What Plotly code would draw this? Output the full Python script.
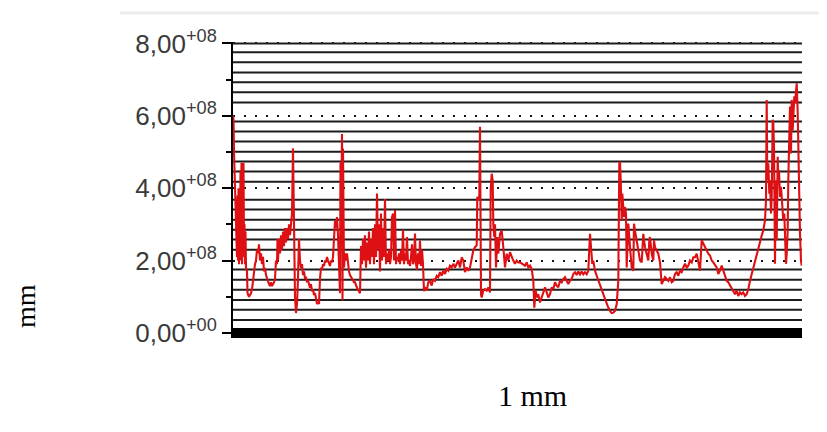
import plotly.graph_objects as go

# Position along the profile (arbitrary units, 0 .. 569)
position = [
    0, 0.5, 1, 2, 3, 4, 4.5, 5, 5.5, 6, 6.5, 7, 7.5, 8, 8.5, 9, 9.5, 10, 10.5, 11, 11.5, 12, 12.5, 13, 14, 14.5,
    15, 16, 17, 18, 19, 20, 21, 22, 23, 24, 25, 26, 27, 28, 29, 30, 31, 32, 33, 34, 35, 36, 37, 38, 39, 40,
    41, 42, 43, 44, 44.5, 45, 46, 47, 48, 49, 50, 51, 52, 53, 54, 55, 56, 57, 58, 59, 60, 60.5, 61, 62, 63,
    64, 65, 66, 67, 68, 69, 70, 71, 72, 73, 74, 75, 76, 77, 78, 79, 80, 81, 82, 83, 84, 85, 86, 87, 88, 89,
    90, 91, 92, 93, 94, 95,
    96, 97, 98, 99, 100, 101, 102, 103, 104, 105, 106, 107, 107.5, 108, 109, 109.5, 110, 110.5, 111, 112,
    113, 114, 115, 116, 117, 118, 119, 120, 121, 122, 123, 124, 125, 126, 127, 128, 129, 130, 131, 132, 133,
    134, 135, 136, 137, 138, 139, 140, 141, 142, 143, 144, 145, 146, 147, 148, 149, 150, 151, 152, 153, 154,
    155, 156, 157, 158, 159, 160, 161, 162, 163, 164, 165, 166, 167, 168, 169, 170, 171, 172, 173, 174, 175,
    176, 177, 178, 179, 180, 181, 182, 183, 184, 185, 186, 187, 188, 189, 190, 191,
    192, 193.7, 195.3, 197, 198.7, 200.3, 202, 203.7, 205.3, 207, 208.7, 210.3, 212, 213.7, 215.3, 217,
    218.7, 220.3, 222, 223.7, 225.3, 227, 228.7, 230.3, 232, 233.7, 235.3, 237, 238.7, 240.3, 242, 243.7,
    244.3, 245.3, 246.3, 247, 248, 248.7, 250.3, 252, 253.7, 255.3, 257, 257.7, 258.7, 259.7, 260.3, 261.3,
    262, 263, 264.3, 265.3, 267, 268.7, 270.3, 272, 273.7, 275.3, 277, 278.7, 280.3, 282, 283.7, 285.3, 287,
    292, 293.7, 295.3, 297, 298.7, 300.3, 301.3, 302.7, 303.7, 305.3, 307, 308.7, 310.3, 312, 313.7, 315.3,
    317, 318.7, 320.3, 322, 323.7, 325.3, 327, 328.7, 330.3, 332, 333.7, 335.3, 337, 338.7, 340.3, 342,
    343.7, 345.3, 347, 348.7, 350.3, 352, 353.7, 355.3, 357, 358, 359.3, 360.3, 362, 363.7, 365.3, 367,
    368.7, 370.3, 372, 373.7, 375.3, 377, 378.7,
    380.3, 382, 383.7, 385.3, 386.3, 387, 387.7, 388.7, 389.3, 390.3, 391, 392, 393, 393.7, 395.3, 397,
    398.7, 400.3, 401, 402, 403.7, 405.3, 407, 408.7, 409.7, 410.3, 412, 413.7, 415.3, 416.3, 417, 418.7,
    420.3, 421, 422, 423.7, 425.3, 427, 428.7, 430.3, 432, 433.7, 435.3, 437, 438.7, 440.3, 442, 443.7,
    445.3, 447, 448.7, 450.3, 452, 453.7, 455.3, 457, 458.7, 460.3, 462, 463.7, 465.3, 467, 468.7, 470.3,
    472, 473.7, 475.3,
    477, 478.7, 480.3, 482, 483.7, 485.3, 487, 488.7, 490.3, 492, 493.7, 495.3, 497, 498.7, 500.3, 502,
    503.7, 505.3, 507, 508.7, 510.3, 512, 513.7, 515.3, 517, 518.7, 520.3, 522, 523.7, 525.3, 527, 528.7,
    530.3, 532, 533, 533.7, 534.3, 535.3, 536.3, 537, 538, 538.7, 539.7, 540.3, 541, 542, 542.7, 543.7,
    544.7, 545.3, 546, 547, 548, 549.3, 550.3, 551.3, 552, 553, 553.7, 554.7, 555.3, 556.3, 557, 558,
    558.7, 559.7, 560.3, 561.3, 562, 563, 563.7, 564.7, 565.3, 566.3, 567, 568, 568.7,
]

# Measured value, in units of 1e8
value_e8 = [
    6.0, 5.9, 5.0, 4.2, 3.2, 2.1, 3.8, 2.0, 4.0, 1.9, 3.6, 2.2, 4.5, 2.0, 4.7, 1.9, 4.6, 2.1, 4.7, 2.3, 3.0, 1.9, 2.8, 1.8, 1.7, 1.1,
    1.05, 1.0, 1.05, 1.1, 1.2, 1.5, 1.6, 1.9, 2.0, 2.3, 2.2, 2.45, 2.0, 2.2, 1.9, 2.1, 1.7, 1.8, 1.6, 1.5, 1.45, 1.35, 1.3, 1.4, 1.3, 1.35,
    1.4, 1.5, 2.0, 1.9, 2.6, 2.0, 2.6, 2.2, 2.7, 2.3, 2.8, 2.4, 2.9, 2.5, 2.9, 2.6, 3.0, 2.7, 3.1, 3.3, 5.1, 3.5, 2.0, 1.0, 0.55,
    0.8, 1.5, 2.6, 2.0, 1.8, 1.9, 1.6, 1.7, 1.5, 1.55, 1.4, 1.45, 1.3, 1.25, 1.35, 1.15, 1.2, 1.05, 1.1, 0.9, 0.8, 0.85, 0.8, 1.5, 1.8, 1.75,
    1.9, 1.85, 2.0, 1.95, 2.1, 2.0,
    1.9, 1.85, 2.0, 1.95, 2.1, 2.6, 3.1, 2.9, 3.2, 2.7, 1.5, 1.1, 4.7, 2.5, 5.5, 0.9, 5.1, 2.2, 1.8, 2.2,
    2.0, 2.2, 1.8, 1.7, 1.6, 1.55, 1.5, 1.45, 1.4, 1.4, 1.3, 1.25, 1.2, 1.15, 1.1, 2.4, 1.9, 2.6, 2.0, 2.7, 1.8,
    2.5, 2.0, 2.8, 1.9, 2.6, 2.1, 2.9, 1.9, 3.0, 2.1, 3.85, 2.3, 3.0, 1.7, 3.3, 2.0, 2.9, 2.1, 3.7, 1.9, 2.2,
    2.0, 2.3, 1.9, 2.1, 3.2, 3.3, 2.0, 3.4, 1.9, 2.1, 2.0, 2.2, 1.9, 2.3, 2.0, 2.85, 1.9, 2.2, 2.0, 2.65, 1.9,
    2.0, 1.85, 2.1, 2.45, 1.9, 2.0, 2.75, 1.9, 1.75, 2.2, 1.9, 2.55, 1.85, 2.3, 1.9, 1.15,
    1.26, 1.17, 1.40, 1.44, 1.31, 1.49, 1.44, 1.58, 1.54, 1.68, 1.58, 1.72, 1.63, 1.77, 1.72, 1.86,
    1.81, 1.91, 1.81, 1.91, 2.0, 1.81, 2.09, 2.0, 1.68, 1.81, 1.72, 1.81, 2.09, 2.28, 2.37, 2.42,
    3.76, 3.67, 3.8, 5.7, 1.07, 0.98, 1.17, 1.21, 1.17, 1.26, 1.12, 3.95, 4.4, 4.2, 3.0, 2.65,
    3.0, 1.81, 2.65, 2.19, 2.74, 2.83, 2.37, 1.81, 2.19, 2.0, 2.23, 2.09, 2.0, 1.91, 2.0, 1.95, 1.95,
    1.86, 1.95, 1.81, 1.86, 1.77, 1.44, 0.70, 1.17, 0.98, 1.07, 0.84, 0.98, 1.07, 1.26, 1.12, 0.98,
    1.07, 1.26, 1.21, 1.40, 1.31, 1.26, 1.44, 1.40, 1.49, 1.54, 1.44, 1.35, 1.44, 1.49, 1.63, 1.68,
    1.60, 1.70, 1.62, 1.70, 1.62, 1.68, 1.62, 1.72, 2.74, 2.37, 1.91, 2.0, 1.72, 1.58, 1.44, 1.35,
    1.21, 1.07, 0.94, 0.80, 0.70, 0.61, 0.55,
    0.56, 0.61, 0.80, 1.44, 4.69, 4.73, 4.22, 3.11, 3.85, 3.57, 3.2, 3.48, 3.3, 1.81, 3.02, 2.37,
    1.81, 1.72, 3.02, 2.83, 2.56, 2.37, 2.0, 1.95, 2.37, 2.74, 2.37, 2.19, 2.0, 2.56, 2.65, 2.19,
    2.0, 2.56, 2.37, 2.28, 2.19, 1.95, 1.35, 1.44, 1.54, 1.49, 1.44, 1.54, 1.40, 1.44, 1.63, 1.68,
    1.58, 1.72, 1.68, 1.81, 1.91, 1.81, 1.86, 2.0, 1.95, 2.09, 2.09, 2.19, 2.0, 1.72, 2.56, 2.46,
    2.37, 2.28, 2.19,
    2.14, 2.0, 1.95, 1.86, 1.81, 1.63, 1.72, 1.86, 1.72, 1.54, 1.44, 1.40, 1.31, 1.21, 1.12, 1.07,
    1.17, 1.02, 1.12, 1.07, 1.12, 1.02, 1.07, 1.21, 1.44, 1.63, 1.81, 2.0, 2.19, 2.37, 2.56, 2.69,
    2.83, 3.11, 3.67, 6.44, 4.22, 4.69, 3.85, 4.22, 3.3, 3.76, 5.89, 5.8, 5.15, 1.91, 4.22, 2.56,
    4.87, 4.22, 4.5, 3.76, 4.04, 3.57, 3.11, 3.3, 2.37, 1.91, 2.19, 2.83, 4.22, 5.15, 6.26, 4.96,
    6.44, 5.6, 5.98, 6.54, 6.35, 6.81, 6.9, 6.07, 4.87, 3.02, 2.74, 2.0, 1.86,
]

# Constant reference levels drawn as horizontal lines (units of 1e8)
level_e8 = [0.36, 0.64, 0.91, 1.19, 1.47, 1.75, 2.30, 2.58, 2.85, 3.13, 3.41, 3.68,
            4.18, 4.46, 4.74, 5.01, 5.29, 5.57, 5.84, 6.37, 6.65, 6.93, 7.20, 7.48, 7.76, 8.0]

tick_values = [0, 2e8, 4e8, 6e8, 8e8]
tick_labels = ["0,00<sup>+00</sup>", "2,00<sup>+08</sup>", "4,00<sup>+08</sup>",
               "6,00<sup>+08</sup>", "8,00<sup>+08</sup>"]

x_min, x_max = 0, 569
values = [v * 1e8 for v in value_e8]

lx, ly = [], []
for lv in level_e8:
    lx += [x_min, x_max, None]
    ly += [lv * 1e8, lv * 1e8, None]

fig = go.Figure()
fig.add_trace(go.Scatter(x=lx, y=ly, mode="lines",
                         line=dict(color="#1c1c1c", width=2), hoverinfo="skip",
                         showlegend=False))
fig.add_trace(go.Scatter(x=position, y=values, mode="lines",
                         line=dict(color="rgb(222,16,20)", width=2.1),
                         showlegend=False))

# page has an 8px body margin; figure is laid out in page pixel terms minus that offset
OFF = 8
W, H = 827 - OFF, 432 - OFF
ml, mr, mt, mb = 233 - OFF, 25, 42 - OFF, 94
pw, ph = W - ml - mr, H - mt - mb


def px(xp):
    return (xp - OFF - ml) / pw


def py(yp):
    return (H - mb - (yp - OFF)) / ph


fig.update_layout(
    width=W, height=H,
    margin=dict(l=ml, r=mr, t=mt, b=mb, autoexpand=False),
    paper_bgcolor="white", plot_bgcolor="white",
    xaxis=dict(range=[x_min, x_max], showticklabels=False, showgrid=False,
               zeroline=False, showline=False, ticks=""),
    yaxis=dict(range=[-0.14e8, 8.04e8], tickmode="array", tickvals=tick_values,
               ticktext=tick_labels, showline=True, linecolor="black", linewidth=2,
               ticks="outside", ticklen=9, tickwidth=2, tickcolor="black",
               tickfont=dict(family="Liberation Sans, Arial", size=26, color="#3a3a3a"),
               showgrid=True, gridcolor="#111111", gridwidth=2, griddash="2px,9px",
               zeroline=True, zerolinecolor="black", zerolinewidth=10,
               minor=dict(tick0=0, dtick=1e8, ticks="outside", ticklen=5, tickwidth=2,
                          tickcolor="black", showgrid=False)),
    annotations=[
        dict(text="mm", xref="paper", yref="paper", x=px(25), y=py(306),
             textangle=-90, showarrow=False, xanchor="center", yanchor="middle",
             font=dict(family="Liberation Serif, Times New Roman", size=28, color="black")),
        dict(text="1 mm", xref="paper", yref="paper", x=px(532), y=py(395),
             showarrow=False, xanchor="center", yanchor="middle",
             font=dict(family="Liberation Serif, Times New Roman", size=30, color="black")),
    ],
    shapes=[
        dict(type="line", xref="paper", yref="paper", x0=px(120), x1=px(827 - OFF),
             y0=py(13), y1=py(13), line=dict(color="#ececec", width=3)),
    ],
)

fig.write_html("out.html")
